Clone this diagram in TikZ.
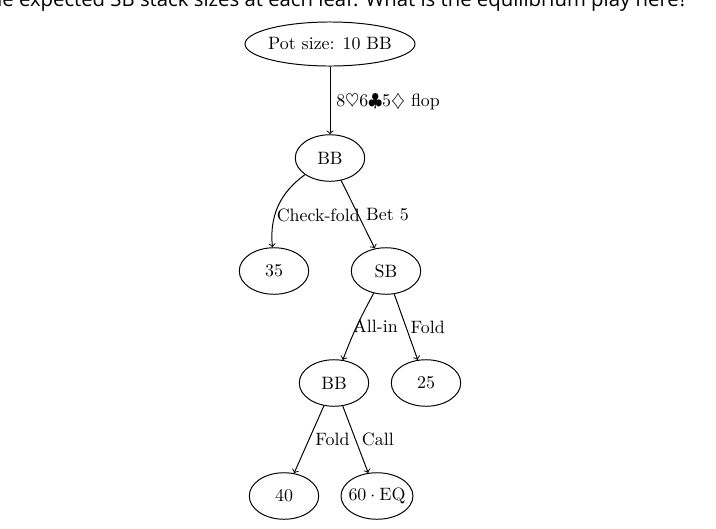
\documentclass[tikz,border=0pt]{standalone}
\usepackage{fontspec}
\newfontfamily\topfont{Open Sans}
\usetikzlibrary{shapes.geometric}
\tikzset{
  leaf/.style={ellipse, draw, inner xsep=-3pt, inner ysep=0pt,
    minimum width=38.8pt, minimum height=26pt},
  lbl/.style={right},
  arr/.style={->}
}
\begin{document}
\begin{tikzpicture}[x=0.5587pt,y=0.5587pt,line width=0.55pt]
\useasboundingbox (0,0) rectangle (716,-529);
\node[anchor=base east, inner sep=0pt, font=\topfont\fontsize{11.35pt}{13pt}\selectfont] (q) at (688,-6.5)
  {the expected SB stack sizes at each leaf. What is the equilibrium play here?};
\node[leaf, minimum width=95pt, minimum height=24.6pt] (pot) at (330,-44) {Pot size: 10 BB};
\node[leaf] (bb1) at (330,-158) {BB};
\node[leaf] (l35) at (274,-271) {35};
\node[leaf] (sb) at (386,-271) {SB};
\node[leaf] (bb2) at (334,-383) {BB};
\node[leaf] (l25) at (426,-383) {25};
\node[leaf] (l40) at (284,-496) {40};
\node[leaf, minimum width=40.2pt] (l60) at (377,-496) {$60\cdot\mathrm{EQ}$};
\draw[arr] (pot) -- node[lbl, pos=0.53]{$8\heartsuit6\clubsuit5\diamondsuit$ flop} (bb1);
\draw[arr] (bb1) to[bend right=30] node[lbl, pos=0.62, xshift=-2.5pt]{Check-fold} (l35);
\draw[arr] (bb1) -- node[lbl, xshift=1pt]{Bet 5} (sb);
\draw[arr] (sb) to[bend right=4] node[lbl, xshift=-5.5pt]{All-in} (bb2);
\draw[arr] (sb) -- node[lbl, xshift=-1pt]{Fold} (l25);
\draw[arr] (bb2) -- node[lbl]{Fold} (l40);
\draw[arr] (bb2) -- node[lbl]{Call} (l60);
\end{tikzpicture}
\end{document}
